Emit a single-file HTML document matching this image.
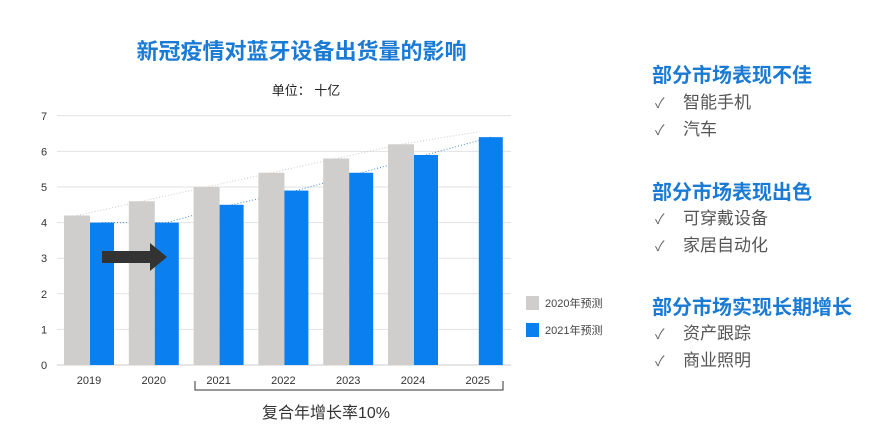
<!DOCTYPE html>
<html><head><meta charset="utf-8"><style>
body{margin:0;width:872px;height:437px;background:#fff;overflow:hidden;font-family:"Liberation Sans","Noto Sans CJK SC",sans-serif;position:relative}
.a{position:absolute;white-space:nowrap}
.h{color:#1a7ad4;font-weight:bold;font-size:20px;left:652px}
.it{color:#555;font-size:17px;left:655px;line-height:22px}
.it span{position:absolute;left:28px;top:0}
.ck{font-size:14px;color:#666;font-weight:normal;position:relative;top:0px}
</style></head><body>
<div class="a" style="left:0;width:603px;text-align:center;top:34px;font-size:22px;font-weight:bold;color:#1a7ad4">新冠疫情对蓝牙设备出货量的影响</div>
<div class="a" style="left:0;width:612px;text-align:center;top:80px;font-size:13px;color:#222">单位： 十亿</div>
<svg width="872" height="437" style="position:absolute;left:0;top:0"><g id="g"></g></svg>
<div class="a h" style="top:59px">部分市场表现不佳</div>
<div class="a it" style="top:92px"><b class="ck">✓</b><span>智能手机</span></div>
<div class="a it" style="top:119px"><b class="ck">✓</b><span>汽车</span></div>
<div class="a h" style="top:176px">部分市场表现出色</div>
<div class="a it" style="top:208px"><b class="ck">✓</b><span>可穿戴设备</span></div>
<div class="a it" style="top:235px"><b class="ck">✓</b><span>家居自动化</span></div>
<div class="a h" style="top:291px">部分市场实现长期增长</div>
<div class="a it" style="top:323px"><b class="ck">✓</b><span>资产跟踪</span></div>
<div class="a it" style="top:350px"><b class="ck">✓</b><span>商业照明</span></div>
<script>
const categories=["2019","2020","2021","2022","2023","2024","2025"];
const forecast2020=[4.2,4.6,5.0,5.4,5.8,6.2,null];
const forecast2021=[4.0,4.0,4.5,4.9,5.4,5.9,6.4];
const yTicks=[0,1,2,3,4,5,6,7];
const NS="http://www.w3.org/2000/svg",g=document.getElementById('g');
const y=v=>365-v*35.6, xc=i=>89+i*64.8;
function mk(t,a,p){const e=document.createElementNS(NS,t);for(const k in a)e.setAttribute(k,a[k]);(p||g).appendChild(e);return e;}
yTicks.forEach(t=>{
 const l=mk('line',{x1:57,x2:511,y1:y(t),y2:y(t),stroke:t?'#e2e2e2':'#ccc'});
 
 
 const tx=mk('text',{x:44,y:y(t)+4,'font-size':11,fill:'#333','text-anchor':'middle'});tx.textContent=t;
 
 
});
let p1=[],p2=[];
forecast2020.forEach((v,i)=>{if(v!=null)p1.push((xc(i)-12)+','+y(v));});
p1.push(xc(6)+','+y(6.55));
forecast2021.forEach((v,i)=>p2.push((xc(i)+13)+','+y(v)));
const t1=mk('polyline',{points:p1.join(' '),fill:'none',stroke:'#ccc','stroke-dasharray':'1 2'});


const t2=mk('polyline',{points:p2.join(' '),fill:'none',stroke:'#4a8fc0','stroke-dasharray':'1 2'});


categories.forEach((c,i)=>{
 if(forecast2020[i]!=null){const r=mk('rect',{x:xc(i)-25,y:y(forecast2020[i]),width:26,height:forecast2020[i]*35.6,fill:'#cfcecc'});
 
 }
 const b=mk('rect',{x:xc(i)+1,y:y(forecast2021[i]),width:24,height:forecast2021[i]*35.6,fill:'#0a7ff0'});
 
 
 const t=mk('text',{x:xc(i),y:384,'font-size':11,fill:'#333','text-anchor':'middle'});t.textContent=c;
 
 
});
const ar=mk('path',{d:'M102,251 H150 V243 L167,257 L150,271 V263 H102 Z',fill:'#333'});


const br=mk('path',{d:'M195,381 V390 H503 V381',fill:'none',stroke:'#333'});


const ct=mk('text',{x:326,y:418,'font-size':16,fill:'#333','text-anchor':'middle'});ct.textContent='复合年增长率10%';


[['#cfcecc','2020年预测',296],['#0a7ff0','2021年预测',323]].forEach(([c,l,yy],k)=>{
 const r=mk('rect',{x:526,y:yy,width:13,height:14,fill:c});
 
 
 const t=mk('text',{x:545,y:yy+11,'font-size':11,fill:'#444'});t.textContent=l;
 
 
});
</script>
</body></html>
